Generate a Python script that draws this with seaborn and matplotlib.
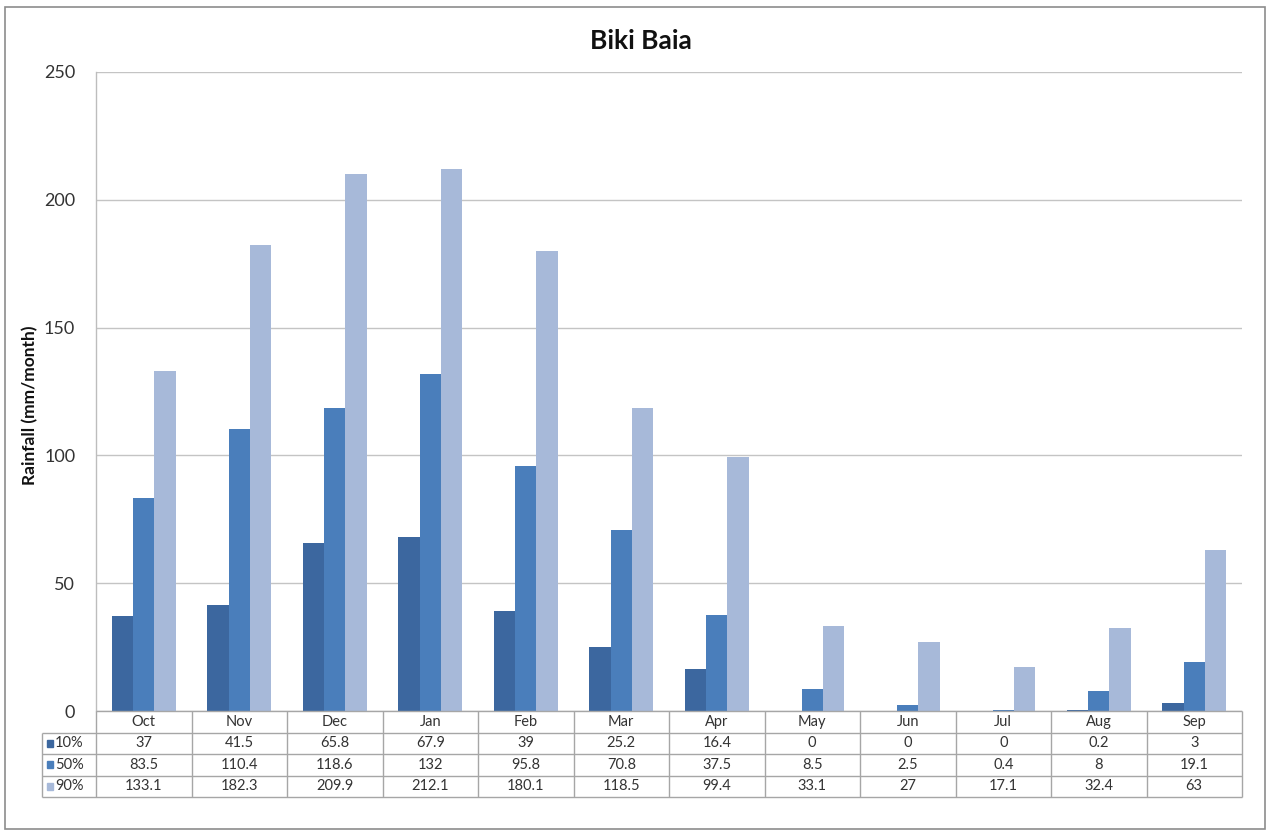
import matplotlib
matplotlib.use("Agg")
import matplotlib.pyplot as plt
from matplotlib.patches import Rectangle
import seaborn as sns
import pandas as pd

months = ["Oct", "Nov", "Dec", "Jan", "Feb", "Mar", "Apr", "May", "Jun", "Jul", "Aug", "Sep"]
series_names = ["10%", "50%", "90%"]
p10 = [37, 41.5, 65.8, 67.9, 39, 25.2, 16.4, 0, 0, 0, 0.2, 3]
p50 = [83.5, 110.4, 118.6, 132, 95.8, 70.8, 37.5, 8.5, 2.5, 0.4, 8, 19.1]
p90 = [133.1, 182.3, 209.9, 212.1, 180.1, 118.5, 99.4, 33.1, 27, 17.1, 32.4, 63]
y_ticks = [0, 50, 100, 150, 200, 250]

colors = ["#3C679F", "#4A7EBB", "#A7B9D9"]

sns.set_theme(style="white")
plt.rcParams["font.family"] = ["Lato", "DejaVu Sans"]

W, H = 1267, 832
fig = plt.figure(figsize=(W / 100, H / 100), dpi=100)

def fx(px):
    return px / W

def fy(py):
    return 1 - py / H

left, right, top, bottom = 96, 1242, 72, 711
tab_bottom = 797
ax = fig.add_axes([fx(left), fy(bottom), fx(right - left), fy(top) - fy(bottom)])
tax = fig.add_axes([fx(left), fy(tab_bottom), fx(right - left), fy(bottom) - fy(tab_bottom)])

values = [p10, p50, p90]
df = pd.DataFrame({
    "month": [m for s in values for m in months],
    "series": [n for n, s in zip(series_names, values) for _ in s],
    "value": [v for s in values for v in s],
})

sns.barplot(data=df, x="month", y="value", hue="series", order=months,
            hue_order=series_names, palette=colors, width=0.67, gap=0,
            saturation=1, linewidth=0, ax=ax, legend=False)

ax.set_xlim(-0.5, len(months) - 0.5)
ax.set_ylim(0, 250)
ax.set_yticks(y_ticks)
ax.set_yticklabels([str(t) for t in y_ticks], fontsize=13, color="#333333")
ax.tick_params(axis="y", length=0, pad=15)
ax.set_xticks([])
ax.set_xlabel("")
ax.set_ylabel("")
ax.yaxis.grid(True, color="#C4C4C4", linewidth=1)
ax.set_axisbelow(True)
for side in ["top", "right", "bottom"]:
    ax.spines[side].set_visible(False)
ax.spines["left"].set_color("#BDBDBD")
ax.spines["left"].set_linewidth(1)

fig.text(fx(30), fy(405), "Rainfall (mm/month)", rotation=90, ha="center", va="center",
         fontsize=12.5, fontweight="bold", color="#111111")

# data table below the bars
n = len(months)
tax.set_xlim(-0.5, n - 0.5)
tax.set_ylim(4, 0)
tax.axis("off")
line_kw = dict(color="#A6A6A6", linewidth=1, clip_on=False)
unit = (right - left) / n
leg_x = -0.5 - (left - 42) / unit
tax.hlines(0, -0.5, n - 0.5, **line_kw)
for r in [1, 2, 3, 4]:
    tax.hlines(r, leg_x, n - 0.5, **line_kw)
for c in range(n + 1):
    tax.vlines(c - 0.5, 0, 4, **line_kw)
tax.vlines(leg_x, 1, 4, **line_kw)

tfs = 10.5
for i, m in enumerate(months):
    tax.text(i, 0.5, m, ha="center", va="center", fontsize=tfs, color="#333333")
for r, (name, vals, col) in enumerate(zip(series_names, values, colors), start=1):
    for i, v in enumerate(vals):
        tax.text(i, r + 0.5, f"{v:g}", ha="center", va="center", fontsize=tfs, color="#333333")
    kx = leg_x + 5 / unit
    tax.add_patch(Rectangle((kx, r + 0.33), 6 / unit, 0.34, color=col, clip_on=False))
    tax.text(kx + 8 / unit, r + 0.5, name, ha="left", va="center", fontsize=tfs, color="#333333")

fig.text(fx(641), fy(41), "Biki Baia", ha="center", va="center", fontsize=19,
         fontweight="bold", color="#111111")

fig.patches.append(Rectangle((fx(5), fy(829)), fx(1260), fy(7) - fy(829),
                             transform=fig.transFigure, fill=False,
                             edgecolor="#8C8C8C", linewidth=1.2))

fig.savefig("out.png", dpi=100, facecolor="white")
